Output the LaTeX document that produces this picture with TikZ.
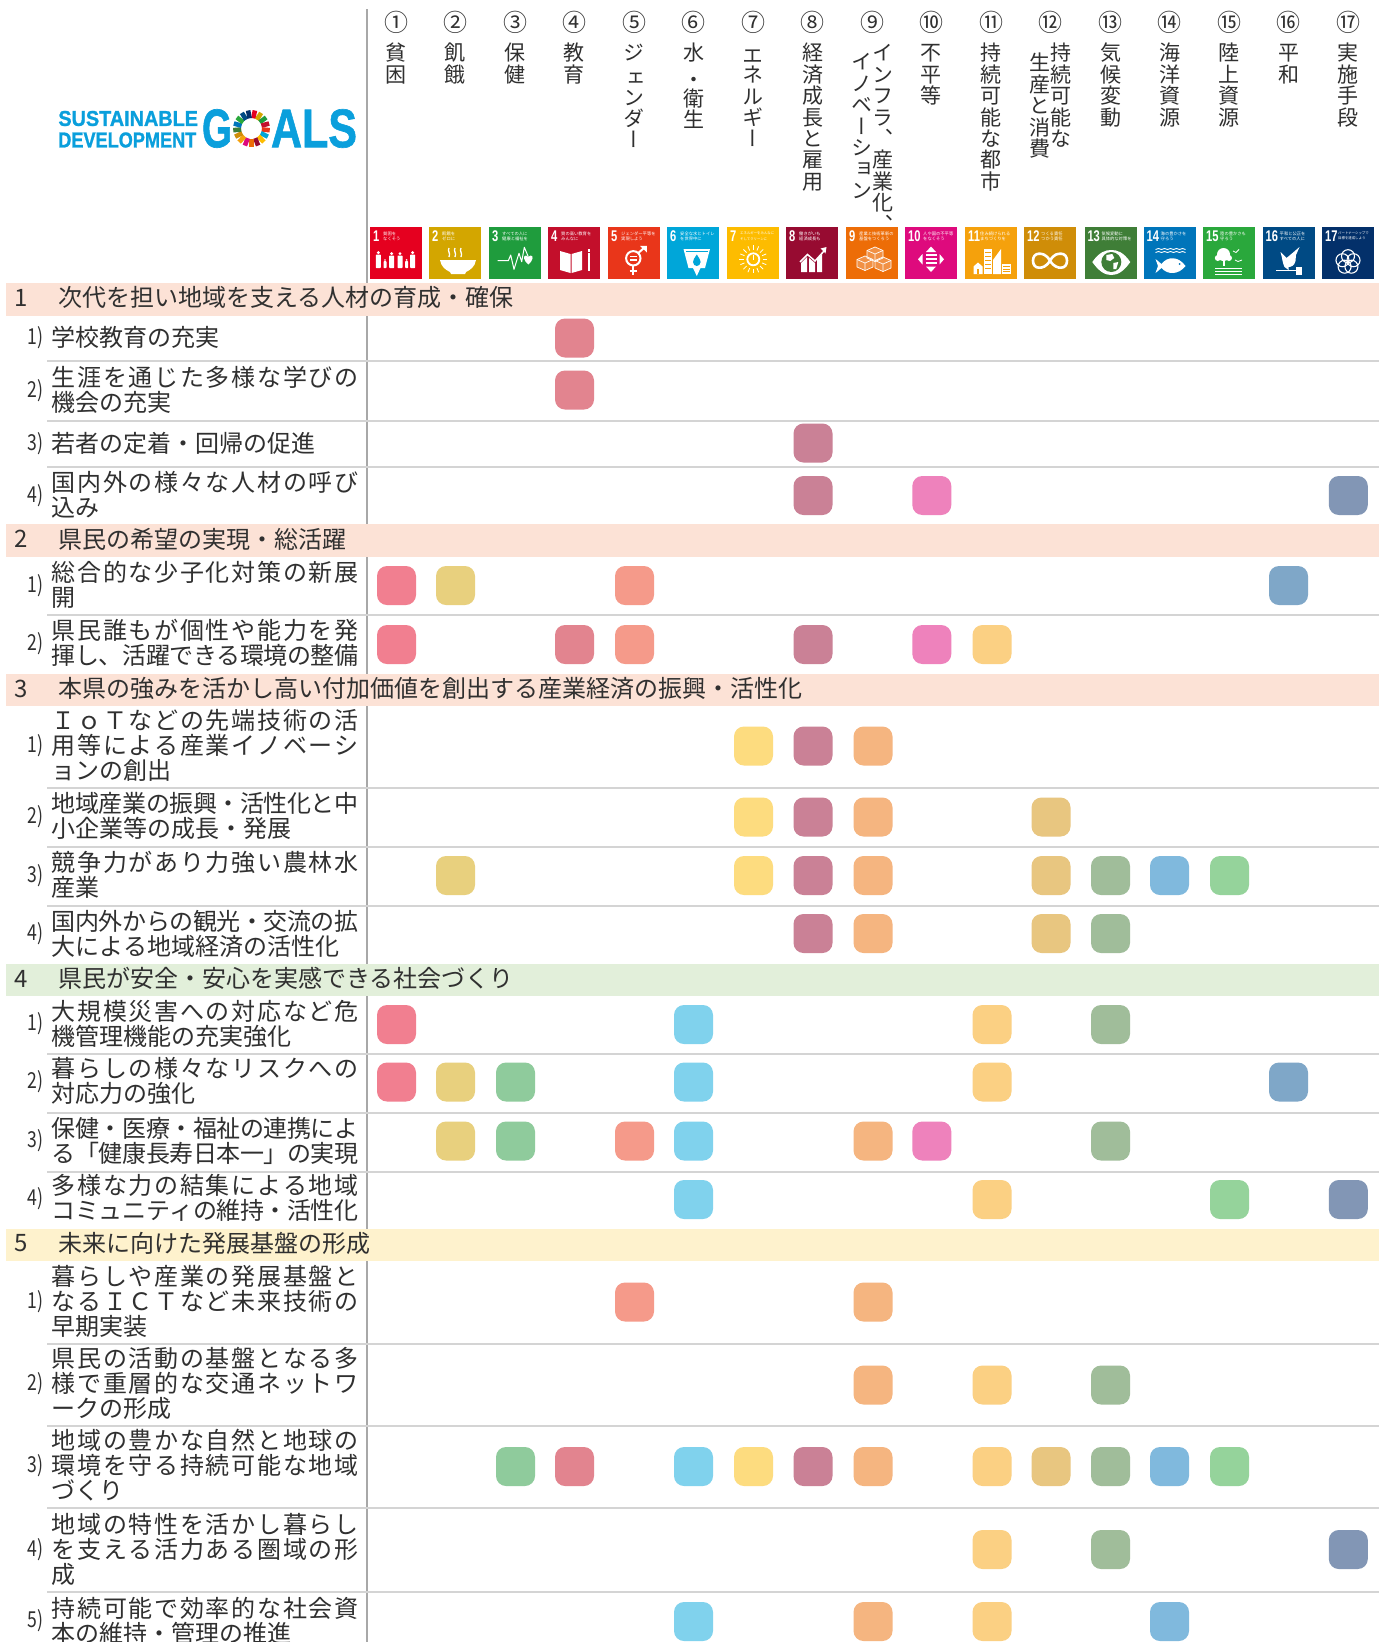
\documentclass[tikz,border=0pt]{standalone}
\usepackage{graphicx}
\usepackage{fontspec}
\setmainfont{Noto Sans CJK JP}
\newfontfamily\tatefont[RawFeature={+vert}]{Noto Sans CJK JP}
\newfontfamily\numfont{Liberation Sans}
\newfontfamily\logofont[BoldFeatures={FakeBold=1.2}]{Liberation Sans}
\definecolor{ink}{HTML}{303030}
\definecolor{rulev}{HTML}{A8A8A8}
\definecolor{ruleh}{HTML}{D4D4D4}
\definecolor{bandA}{HTML}{FCE2D6}
\definecolor{bandB}{HTML}{E2EFDA}
\definecolor{bandC}{HTML}{FEF2CD}
\definecolor{logoblue}{HTML}{0A9FDC}
\definecolor{ic1}{HTML}{E5001F}\definecolor{ic2}{HTML}{D3A600}\definecolor{ic3}{HTML}{1F9C3D}
\definecolor{ic4}{HTML}{C30F2B}\definecolor{ic5}{HTML}{E9361A}\definecolor{ic6}{HTML}{00A6D9}
\definecolor{ic7}{HTML}{FDBC00}\definecolor{ic8}{HTML}{970B31}\definecolor{ic9}{HTML}{ED6D07}
\definecolor{ic10}{HTML}{DE0A7D}\definecolor{ic11}{HTML}{F5A10C}\definecolor{ic12}{HTML}{CF8D08}
\definecolor{ic13}{HTML}{3F7E37}\definecolor{ic14}{HTML}{0075BA}\definecolor{ic15}{HTML}{2AA83C}
\definecolor{ic16}{HTML}{004A84}\definecolor{ic17}{HTML}{03306A}
\definecolor{sq1}{HTML}{F17F90}\definecolor{sq2}{HTML}{E8D07E}\definecolor{sq3}{HTML}{8FCB9C}
\definecolor{sq4}{HTML}{E2848F}\definecolor{sq5}{HTML}{F59A8A}\definecolor{sq6}{HTML}{80D2ED}
\definecolor{sq7}{HTML}{FDDC7F}\definecolor{sq8}{HTML}{CA8196}\definecolor{sq9}{HTML}{F5B580}
\definecolor{sq10}{HTML}{EE82BC}\definecolor{sq11}{HTML}{FBD083}\definecolor{sq12}{HTML}{E8C680}
\definecolor{sq13}{HTML}{A0BD9A}\definecolor{sq14}{HTML}{80B9DD}\definecolor{sq15}{HTML}{95D39B}
\definecolor{sq16}{HTML}{7FA7C8}\definecolor{sq17}{HTML}{8296B5}
\makeatletter
% spread the characters of one line over the full text width
\def\jj@x#1#2\@nil{#1\ifx\relax#2\relax\else\hss\jj@x#2\@nil\fi}
\newcommand\rowst{\vrule height .88em depth .12em width 0pt\relax}
\newcommand\jl[1]{\makebox[306.5pt][s]{\rowst\jj@x#1\@nil}}
\newcommand\nl[1]{\mbox{\rowst#1}}
% vertical stack of characters
\def\tt@x#1#2\@nil{\hbox to 24pt{\hss\vrule height 18.7pt depth 2.7pt width 0pt#1\hss}\ifx\relax#2\relax\else\tt@x#2\@nil\fi}
\newcommand\tate[1]{\vbox{\offinterlineskip\tt@x#1\@nil}}
\makeatother
\newcommand\cx[1]{\ifcase#1\or396.5\or455.5\or515.5\or574.5\or634.5\or693.5\or753.5\or813\or873\or931.8\or992\or1051\or1110.5\or1169.5\or1229.5\or1288.5\or1348.3\fi}
\newcommand\hx[1]{\ifcase#1\or396\or455.4\or515\or574\or634.4\or693.5\or753\or812.5\or872\or931\or991\or1050\or1110.5\or1169.5\or1229\or1288.5\or1348\fi}
\tikzset{
  rowtext/.style={inner sep=0pt,anchor=west,align=left,text=ink,font=\fontsize{24}{25}\selectfont},
  rowlab/.style={inner sep=0pt,anchor=east,text=ink,font=\fontsize{22}{22}\selectfont},
  bandtext/.style={inner sep=0pt,anchor=west,text=ink,font=\fontsize{24}{25}\selectfont},
  bandnum/.style={inner sep=0pt,text=ink,font=\fontsize{24}{25}\selectfont},
  sqbox/.style={inner sep=0pt,minimum size=39pt,rounded corners=10pt},
  headnum/.style={inner sep=0pt,text=ink,font=\fontsize{24}{24}\selectfont},
  headtxt/.style={inner sep=0pt,anchor=north,text=ink,font=\tatefont\fontsize{21}{21}\selectfont},
  icontile/.style={inner sep=0pt,minimum size=52pt,anchor=north west},
  icondigit/.style={inner sep=0pt,anchor=north west,text=white,font=\numfont\bfseries\fontsize{15.5}{15.5}\selectfont},
  icontitle/.style={inner sep=0pt,anchor=north west,align=left,text=white},
}
% row: id, number, text y, lines, square y, columns
\newcommand\rowitem[6]{%
  \node[rowlab] (lab#1) at (43.5,#3+1) {\scalebox{.8}[1]{#2)}};
  \node[rowtext] (txt#1) at (51.7,#3+.8) {#4};
  \foreach \c in {#6} {\node[sqbox,fill=sq\c] (sq#1-\c) at (\cx{\c},#5) {};}
}
\newcommand\headcol[3]{%
  \node[headnum] (hn#1) at (\hx{#1},22.5) {#2};
  \node[headtxt] (ht#1) at (\hx{#1},42) {\tate{#3}};
}
% pictogram helpers
\newcommand\pers[4]{% cx top h w
  \fill[white] (#1,#2+#4*.32) circle[radius=#4*.32*1pt];
  \fill[white,rounded corners=.6pt] (#1-#4*.5,#2+#4*.72) rectangle (#1+#4*.5,#2+#3);
}
\newcommand\sdgicon[7]{% i, x, digit, title size, line1, line2, title x
  \node[icontile,fill=ic#1] (icon#1) at (#2,227) {};
  \node[icondigit] (dig#1) at (#2+3,230.2) {\scalebox{.72}[1]{#3}};
  \node[icontitle,font=\fontsize{#4}{5.4}\selectfont] (title#1) at (#2+#7,231.5) {#5\\#6};
}
\begin{document}
\begin{tikzpicture}[x=1pt,y=-1pt]
\useasboundingbox (0,0) rectangle (1385,1642);
\fill[white] (0,0) rectangle (1385,1642);

% rules
\draw[rulev,line width=2pt] (367.3,9) -- (367.3,1642);
\foreach \y in {361,420.5,467,614.5,788,847,905.5,1054,1113,1171.5,1344,1426,1507.7,1591.7}
  \draw[ruleh,line width=2pt] (47,\y) -- (1379,\y);

% bands
\fill[bandA] (6,283) rectangle (1379,316);
\fill[bandA] (6,524) rectangle (1379,557);
\fill[bandA] (6,674) rectangle (1379,706);
\fill[bandB] (6,964) rectangle (1379,996);
\fill[bandC] (6,1229) rectangle (1379,1261);
\node[bandnum] (bn1) at (21.5,297.5) {1};
\node[bandnum] (bn2) at (21.5,539) {2};
\node[bandnum] (bn3) at (21.5,688.5) {3};
\node[bandnum] (bn4) at (21.5,978.5) {4};
\node[bandnum] (bn5) at (21.5,1243.5) {5};
\node[bandtext] (bt1) at (58,297.5) {次代を担い地域を支える人材の育成・確保};
\node[bandtext] (bt2) at (58,539) {県民の希望の実現・総活躍};
\node[bandtext] (bt3) at (58,688.5) {本県の強みを活かし高い付加価値を創出する産業経済の振興・活性化};
\node[bandtext] (bt4) at (58,978.5) {県民が安全・安心を実感できる社会づくり};
\node[bandtext] (bt5) at (58,1243.5) {未来に向けた発展基盤の形成};

% logo
\node[inner sep=0pt,text=logoblue] (logoa) at (128.2,118.5) {\resizebox{139.6pt}{15pt}{\logofont\bfseries SUSTAINABLE}};
\node[inner sep=0pt,text=logoblue] (logob) at (127.3,140) {\resizebox{138pt}{15pt}{\logofont\bfseries DEVELOPMENT}};
\node[inner sep=0pt,text=logoblue] (logog) at (217,128.5) {\resizebox{30pt}{38pt}{\logofont\bfseries G}};
\node[inner sep=0pt,text=logoblue] (logoc) at (314,128.5) {\resizebox{86pt}{38pt}{\logofont\bfseries ALS}};
\foreach \i in {1,...,17} {
  \pgfmathsetmacro\aa{90-(\i-1)*360/17-1.5}
  \pgfmathsetmacro\bb{90-\i*360/17+1.5}
  \draw[ic\i,line width=8pt] ([shift={(251.5,128.5)}]\aa:14.5pt) arc[start angle=\aa,end angle=\bb,radius=14.5pt];
}

% header columns
\headcol{1}{①}{貧困}
\headcol{2}{②}{飢餓}
\headcol{3}{③}{保健}
\headcol{4}{④}{教育}
\headcol{5}{⑤}{ジ{\raisebox{-4pt}{ェ}}ンダー}
\headcol{6}{⑥}{水{\raisebox{-5pt}{・}}衛生}
\headcol{7}{⑦}{{\raisebox{-3pt}{エ}}ネルギー}
\headcol{8}{⑧}{経済成長と雇用}
\node[headnum] (hn9) at (\hx{9},22.5) {⑨};
\node[headtxt] (ht9a) at (882.5,42) {\tate{インフラ、産業化、}};
\node[headtxt] (ht9b) at (862,51) {\tate{イノベーション}};
\headcol{10}{⑩}{不平等}
\headcol{11}{⑪}{持続可能な都市}
\node[headnum] (hn12) at (\hx{12},22.5) {⑫};
\node[headtxt] (ht12a) at (1061.4,42) {\tate{持続可能な}};
\node[headtxt] (ht12b) at (1040,52) {\tate{生産と消費}};
\headcol{13}{⑬}{気候変動}
\headcol{14}{⑭}{海洋資源}
\headcol{15}{⑮}{陸上資源}
\headcol{16}{⑯}{平和}
\headcol{17}{⑰}{実施手段}

% icons
\sdgicon{1}{370}{1}{4.3}{貧困を}{なくそう}{13}
\begin{scope}[shift={(370,227)}]
  \pers{8.3}{24}{17}{5} \pers{15}{32}{9}{3} \pers{21.7}{25}{16}{5}
  \pers{30}{25}{16}{5} \pers{36.7}{32}{9}{3} \pers{42.7}{24}{17}{5}
\end{scope}
\sdgicon{2}{429}{2}{4.3}{飢餓を}{ゼロに}{13}
\begin{scope}[shift={(429,227)}]
  \fill[white] (11,33) -- (47,33) .. controls (46,40) and (41,43) .. (37,45) -- (36,47) -- (22,47) -- (21,45) .. controls (17,43) and (12,40) .. (11,33) -- cycle;
  \foreach \q in {20,26,32} \draw[white,line width=1.3pt] (\q,21) .. controls (\q-2,24) and (\q+2,26) .. (\q,30);
\end{scope}
\sdgicon{3}{489}{3}{4.3}{すべての人に}{健康と福祉を}{13}
\begin{scope}[shift={(489,227)}]
  \draw[white,line width=1pt,line join=round] (8.7,33.7) -- (19.3,33.7) -- (21.7,28) -- (25,42.3) -- (30,26.3) -- (32.7,34.7) -- (35.3,20.3) -- (39.3,29.7);
  \fill[white] (39.3,37.5) .. controls (34,33) and (34,28.5) .. (37,28.5) .. controls (38,28.5) and (39,29) .. (39.3,30) .. controls (39.6,29) and (40.6,28.5) .. (41.6,28.5) .. controls (44.6,28.5) and (44.6,33) .. (39.3,37.5) -- cycle;
\end{scope}
\sdgicon{4}{548}{4}{4.3}{質の高い教育を}{みんなに}{13}
\begin{scope}[shift={(548,227)}]
  \fill[white] (12,24) -- (22.5,27) -- (22.5,46) -- (12,43) -- cycle;
  \fill[white] (34,24) -- (23.5,27) -- (23.5,46) -- (34,43) -- cycle;
  \fill[white] (39.5,26) rectangle (41.5,44);
  \fill[white] (39.5,22) rectangle (41.5,24.8);
\end{scope}
\sdgicon{5}{608}{5}{4.3}{ジェンダー平等を}{実現しよう}{13}
\begin{scope}[shift={(608,227)}]
  \draw[white,line width=2pt] (25.3,31.3) circle[radius=7.2pt];
  \fill[white] (21.5,28.8) rectangle (29,30.4);
  \fill[white] (21.5,32.2) rectangle (29,33.8);
  \draw[white,line width=2pt] (30.3,26) -- (36.5,20.5);
  \fill[white] (32,18.8) -- (38.8,18.8) -- (38.8,25.5) -- cycle;
  \draw[white,line width=2pt] (25.3,39) -- (25.3,48);
  \draw[white,line width=2pt] (21.5,44) -- (29,44);
\end{scope}
\sdgicon{6}{667}{6}{4.3}{安全な水とトイレ}{を世界中に}{13}
\begin{scope}[shift={(667,227)}]
  \fill[white] (16.5,22) -- (43,22) -- (38,41) -- (33.5,41) -- (29.8,49) -- (26,41) -- (21.5,41) -- cycle;
  \fill[ic6] (18.8,24) rectangle (40.7,25);
  \fill[ic6] (29.8,27.5) .. controls (27.5,31) and (26,33) .. (26,35) .. controls (26,37.5) and (28,39) .. (29.8,39) .. controls (31.6,39) and (33.6,37.5) .. (33.6,35) .. controls (33.6,33) and (32,31) .. (29.8,27.5) -- cycle;
\end{scope}
\sdgicon{7}{727}{7}{3.4}{エネルギーをみんなに}{そしてクリーンに}{13}
\begin{scope}[shift={(727,227)}]
  \draw[white,line width=1.8pt] (26.3,32.3) circle[radius=6pt];
  \fill[white] (25.5,27.5) rectangle (27.1,32.5);
  \foreach \r in {0,22.5,...,337.5} \draw[white,line width=.8pt] ([shift={(26.3,32.3)}]\r:9.5pt) -- ([shift={(26.3,32.3)}]\r:14pt);
\end{scope}
\sdgicon{8}{786}{8}{4.3}{働きがいも}{経済成長も}{13}
\begin{scope}[shift={(786,227)}]
  \fill[white] (15,36) -- (21,30) -- (21,45) -- (15,45) -- cycle;
  \fill[white] (23,31) -- (29,36) -- (29,45) -- (23,45) -- cycle;
  \fill[white] (31,32) -- (36,27) -- (36,45) -- (31,45) -- cycle;
  \draw[white,line width=1.5pt] (14,35) -- (21.5,27.5) -- (29,34) -- (38,24);
  \fill[white] (34.5,21.5) -- (40.5,20) -- (39.5,26.5) -- cycle;
\end{scope}
\sdgicon{9}{846}{9}{4.3}{産業と技術革新の}{基盤をつくろう}{13}
\begin{scope}[shift={(846,227)},white,line width=.7pt,line join=round]
  \foreach \cc/\dd in {29/26,19/35,37/36} {
    \draw[fill=white,fill opacity=.25] (\cc,\dd-6) -- (\cc+8,\dd-2.5) -- (\cc+8,\dd+5) -- (\cc,\dd+8.5) -- (\cc-8,\dd+5) -- (\cc-8,\dd-2.5) -- cycle;
    \draw (\cc-8,\dd-2.5) -- (\cc,\dd+1) -- (\cc+8,\dd-2.5) (\cc,\dd+1) -- (\cc,\dd+8.5);
  }
\end{scope}
\sdgicon{10}{905}{10}{4.3}{人や国の不平等}{をなくそう}{18}
\begin{scope}[shift={(905,227)}]
  \fill[white] (26,19.5) -- (31,25) -- (21,25) -- cycle;
  \fill[white] (26,45) -- (31,39.5) -- (21,39.5) -- cycle;
  \fill[white] (13,32.3) -- (17.5,27) -- (17.5,37.5) -- cycle;
  \fill[white] (39,32.3) -- (34.5,27) -- (34.5,37.5) -- cycle;
  \foreach \w in {27.2,31.2,35.2} \fill[white] (20.5,\w) rectangle (31.5,\w+2);
\end{scope}
\sdgicon{11}{965}{11}{4.3}{住み続けられる}{まちづくりを}{15}
\begin{scope}[shift={(965,227)}]
  \fill[white] (8.5,47) -- (8.5,39.5) -- (13,35.5) -- (17.5,39.5) -- (17.5,47) -- cycle;
  \fill[white] (18.5,22) rectangle (27,47);
  \fill[white] (28,47) -- (28,33) -- (36,22) -- (36,47) -- cycle;
  \fill[white] (37,36.5) rectangle (45.5,47);
  \foreach \w in {25,29,33,37,41} \fill[ic11] (20,\w) rectangle (25.5,\w+1);
  \foreach \w in {38.5,41.5,44} \fill[ic11] (38,\w) rectangle (44.5,\w+.8);
  \fill[ic11] (12,42) rectangle (14,47);
\end{scope}
\sdgicon{12}{1024}{12}{4.3}{つくる責任}{つかう責任}{17}
\begin{scope}[shift={(1024,227)}]
  \draw[white,line width=2.6pt] (26,33.7) .. controls (22,27) and (18,26.7) .. (15,26.7) .. controls (11,26.7) and (9,30) .. (9,33.7) .. controls (9,37.5) and (11,40.7) .. (15,40.7) .. controls (18.5,40.7) and (22,40) .. (26,33.7) .. controls (30,27) and (33.5,26.7) .. (37,26.7) .. controls (41,26.7) and (43,30) .. (43,33.7) .. controls (43,37.5) and (41,40.7) .. (37,40.7) .. controls (34,40.7) and (30,40) .. (26,33.7) -- cycle;
\end{scope}
\sdgicon{13}{1084.3}{13}{4.3}{気候変動に}{具体的な対策を}{17}
\begin{scope}[shift={(1084.3,227)}]
  \fill[white] (8,35) .. controls (15,25) and (21,23) .. (27,23) .. controls (33,23) and (39,25) .. (46,35) .. controls (39,45) and (33,48) .. (27,48) .. controls (21,48) and (15,45) .. (8,35) -- cycle;
  \fill[ic13] (27,35) circle[radius=10pt];
  \fill[white] (22,28) -- (28,27) -- (30,31) -- (26,34) -- (22,33) -- cycle;
  \fill[white] (29,36) -- (34,35) -- (32,42) -- (29,42) -- cycle;
\end{scope}
\sdgicon{14}{1143.5}{14}{4.3}{海の豊かさを}{守ろう}{17}
\begin{scope}[shift={(1143.5,227)}]
  \foreach \w in {22.5,25.5}
    \draw[white,line width=.9pt] (12,\w) -- (15,\w-1) -- (18,\w) -- (21,\w-1) -- (24,\w) -- (27,\w-1) -- (30,\w) -- (33,\w-1) -- (36,\w) -- (39,\w-1) -- (42,\w);
  \fill[white] (12,32) -- (18,37) .. controls (24,29) and (35,29) .. (42,39) .. controls (35,48) and (24,48) .. (18,41) -- (12,46) -- (14.5,39) -- cycle;
  \fill[ic14] (36,37) circle[radius=1pt];
\end{scope}
\sdgicon{15}{1203}{15}{4.3}{陸の豊かさも}{守ろう}{17}
\begin{scope}[shift={(1203,227)}]
  \fill[white] (20.5,27.5) circle[radius=6.5pt];
  \fill[white] (14.8,31) circle[radius=3pt];
  \fill[white] (26,31) circle[radius=3pt];
  \fill[white] (19.5,30) rectangle (21.7,39);
  \fill[white] (12,40.5) rectangle (39,41.8);
  \fill[white] (12,43.5) rectangle (39,44.8);
  \fill[white] (12,46.5) rectangle (39,47.5);
  \draw[white,line width=.8pt] (30,24) -- (33,25.5) -- (36,22.5) (32,33) -- (35,34.5) -- (39,33);
\end{scope}
\sdgicon{16}{1262.5}{16}{4.3}{平和と公正を}{すべての人に}{17}
\begin{scope}[shift={(1262.5,227)}]
  \fill[white] (18,25) -- (24,31) -- (30,26) -- (37,20) -- (33.5,28) -- (33,34) .. controls (32,39) and (28,40) .. (26,40) -- (26,43) -- (22,40) .. controls (20,36) and (20,32) .. (18,25) -- cycle;
  \fill[white] (13,42.5) rectangle (33,44);
  \fill[white] (33,39.5) rectangle (39.5,48);
\end{scope}
\sdgicon{17}{1322}{17}{3.4}{パートナーシップで}{目標を達成しよう}{16}
\begin{scope}[shift={(1322,227)}]
  \foreach \r in {90,162,234,306,18}
    \draw[white,line width=1.1pt] ([shift={(26,35)}]\r:5.8pt) circle[radius=6.5pt];
\end{scope}

% rows
\rowitem{a1}{1}{336.7}{\nl{学校教育の充実}}{338}{4}
\rowitem{a2}{2}{389.2}{\jl{生涯を通じた多様な学びの}\\\nl{機会の充実}}{390}{4}
\rowitem{a3}{3}{442.3}{\nl{若者の定着・回帰の促進}}{443}{8}
\rowitem{a4}{4}{494.2}{\jl{国内外の様々な人材の呼び}\\\nl{込み}}{495.5}{8,10,17}
\rowitem{b1}{1}{584.2}{\jl{総合的な少子化対策の新展}\\\nl{開}}{585.5}{1,2,5,16}
\rowitem{b2}{2}{642.5}{\jl{県民誰もが個性や能力を発}\\\jl{揮し、活躍できる環境の整備}}{644.5}{1,4,5,8,10,11}
\rowitem{c1}{1}{744.5}{\jl{ＩｏＴなどの先端技術の活}\\\jl{用等による産業イノベーシ}\\\nl{ョンの創出}}{746}{7,8,9}
\rowitem{c2}{2}{815.5}{\jl{地域産業の振興・活性化と中}\\\nl{小企業等の成長・発展}}{817}{7,8,9,12}
\rowitem{c3}{3}{874.3}{\jl{競争力があり力強い農林水}\\\nl{産業}}{875.5}{2,7,8,9,12,13,14,15}
\rowitem{c4}{4}{932.7}{\jl{国内外からの観光・交流の拡}\\\nl{大による地域経済の活性化}}{933.5}{8,9,12,13}
\rowitem{d1}{1}{1023}{\jl{大規模災害への対応など危}\\\nl{機管理機能の充実強化}}{1024.5}{1,6,11,13}
\rowitem{d2}{2}{1080.5}{\jl{暮らしの様々なリスクへの}\\\nl{対応力の強化}}{1082}{1,2,3,6,11,16}
\rowitem{d3}{3}{1140}{\jl{保健・医療・福祉の連携によ}\\\jl{る「健康長寿日本一」の実現}}{1141}{2,3,5,6,9,10,13}
\rowitem{d4}{4}{1197.5}{\jl{多様な力の結集による地域}\\\jl{コミュニティの維持・活性化}}{1199.5}{6,11,15,17}
\rowitem{e1}{1}{1300.7}{\jl{暮らしや産業の発展基盤と}\\\jl{なるＩＣＴなど未来技術の}\\\nl{早期実装}}{1302}{5,9}
\rowitem{e2}{2}{1383}{\jl{県民の活動の基盤となる多}\\\jl{様で重層的な交通ネットワ}\\\nl{ークの形成}}{1385}{9,11,13}
\rowitem{e3}{3}{1465}{\jl{地域の豊かな自然と地球の}\\\jl{環境を守る持続可能な地域}\\\nl{づくり}}{1466.5}{3,4,6,7,8,9,11,12,13,14,15}
\rowitem{e4}{4}{1549}{\jl{地域の特性を活かし暮らし}\\\jl{を支える活力ある圏域の形}\\\nl{成}}{1549.5}{11,13,17}
\rowitem{e5}{5}{1620}{\jl{持続可能で効率的な社会資}\\\nl{本の維持・管理の推進}}{1621.5}{6,9,11,14}
\end{tikzpicture}
\end{document}
